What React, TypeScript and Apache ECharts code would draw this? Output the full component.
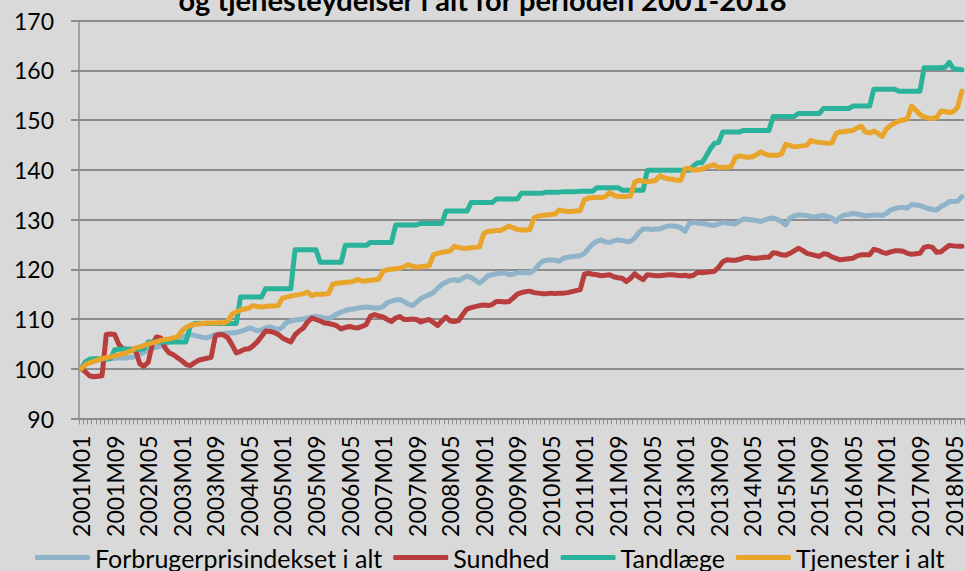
import React, { useEffect, useRef } from "react";
import * as echarts from "echarts";

// Monthly categories 2001M01 .. 2018M07
const startYear = 2001;
const monthCount = 211;
const categories: string[] = [];
for (let k = 0; k < monthCount; k++) {
  const y = startYear + Math.floor(k / 12);
  const m = (k % 12) + 1;
  categories.push(`${y}M${m < 10 ? "0" + m : m}`);
}

const seriesNames = ["Forbrugerprisindekset i alt", "Sundhed", "Tandlæge", "Tjenester i alt"];

const forbrugerpris = [
  100.0, 100.8, 101.3, 101.6, 101.8, 101.9, 101.9, 102.0, 102.1, 102.2,
  102.1, 102.2, 102.3, 102.5, 102.9, 103.3, 103.8, 104.2, 104.3, 104.5,
  104.9, 105.4, 105.9, 106.3, 106.5, 106.6, 106.9, 106.7, 106.5, 106.3,
  106.2, 106.5, 106.9, 107.0, 107.1, 107.2, 107.2, 107.3, 107.5, 107.8,
  108.2, 108.0, 107.6, 107.8, 108.2, 108.4, 108.1, 107.8, 108.4, 109.3,
  109.6, 109.8, 109.9, 110.0, 110.2, 110.4, 110.5, 110.4, 110.2, 110.1,
  110.5, 111.0, 111.4, 111.7, 111.9, 112.0, 112.2, 112.3, 112.4, 112.3,
  112.2, 112.2, 112.5, 113.3, 113.6, 113.8, 113.9, 113.5, 113.0, 112.7,
  113.4, 114.1, 114.5, 114.9, 115.3, 116.2, 116.9, 117.4, 117.8, 117.9,
  117.7, 118.2, 118.6, 118.3, 117.8, 117.2, 117.9, 118.7, 118.9, 119.1,
  119.2, 119.3, 118.9, 119.0, 119.3, 119.4, 119.3, 119.3, 119.8, 120.8,
  121.6, 121.8, 121.9, 121.8, 121.6, 122.2, 122.4, 122.5, 122.6, 122.7,
  123.2, 124.2, 125.1, 125.6, 125.9, 125.5, 125.4, 125.7, 125.9, 125.8,
  125.6, 125.6, 126.3, 127.4, 128.1, 128.1, 128.0, 128.1, 128.1, 128.4,
  128.7, 128.7, 128.6, 128.3, 127.6, 129.2, 129.4, 129.3, 129.2, 129.1,
  128.9, 128.8, 129.1, 129.4, 129.3, 129.2, 129.1, 129.7, 130.1, 130.0,
  129.9, 129.8, 129.6, 129.9, 130.2, 130.3, 130.0, 129.6, 128.9, 130.3,
  130.7, 130.9, 130.9, 130.8, 130.6, 130.5, 130.7, 130.8, 130.6, 130.3,
  129.6, 130.5, 130.9, 131.0, 131.2, 131.1, 130.9, 130.7, 130.8, 130.9,
  130.9, 130.8, 131.2, 131.9, 132.2, 132.4, 132.4, 132.3, 133.0, 132.9,
  132.8, 132.5, 132.2, 132.0, 131.9, 132.6, 133.0, 133.6, 133.6, 133.7, 134.6,
];

const sundhed = [
  100.0, 99.4, 98.6, 98.4, 98.5, 98.6, 106.9, 107.0, 106.9, 104.9,
  104.0, 103.9, 103.9, 103.6, 101.0, 100.5, 101.3, 105.0, 106.4, 106.2,
  104.2, 103.2, 102.8, 102.2, 101.6, 100.9, 100.6, 101.2, 101.7, 101.9,
  102.1, 102.3, 106.6, 106.9, 106.8, 106.2, 104.8, 103.2, 103.5, 103.9,
  104.0, 104.6, 105.4, 106.5, 107.6, 107.5, 107.3, 106.9, 106.2, 105.8,
  105.4, 106.8, 107.6, 108.2, 109.4, 110.2, 109.9, 109.6, 109.2, 109.1,
  108.9, 108.6, 108.0, 108.3, 108.5, 108.3, 108.2, 108.5, 108.9, 110.6,
  110.9, 110.6, 110.4, 109.9, 109.5, 110.2, 110.5, 109.9, 109.9, 110.0,
  109.9, 109.4, 109.7, 109.9, 109.3, 108.7, 109.6, 110.4, 109.6, 109.5,
  109.7, 110.9, 112.0, 112.3, 112.5, 112.7, 112.8, 112.7, 112.9, 113.5,
  113.5, 113.4, 113.5, 114.2, 115.0, 115.3, 115.5, 115.6, 115.3, 115.2,
  115.1, 115.1, 115.2, 115.1, 115.2, 115.2, 115.3, 115.5, 115.7, 115.9,
  119.0, 119.2, 119.0, 118.9, 118.7, 118.8, 118.9, 118.5, 118.3, 118.2,
  117.5, 118.2, 119.1, 118.4, 117.9, 118.9, 118.8, 118.7, 118.7, 118.8,
  118.9, 118.9, 118.8, 118.7, 118.8, 118.6, 118.8, 119.4, 119.3, 119.4,
  119.5, 119.6, 120.4, 121.5, 121.9, 121.8, 121.8, 122.0, 122.3, 122.4,
  122.2, 122.2, 122.3, 122.4, 122.4, 123.3, 123.2, 122.9, 122.8, 123.2,
  123.7, 124.2, 123.8, 123.2, 123.0, 122.8, 122.6, 123.1, 123.0, 122.5,
  122.2, 121.9, 122.0, 122.1, 122.2, 122.7, 122.9, 122.9, 122.9, 124.0,
  123.8, 123.4, 123.2, 123.5, 123.7, 123.7, 123.6, 123.2, 123.0, 123.1,
  123.2, 124.4, 124.6, 124.4, 123.4, 123.5, 124.2, 124.8, 124.7, 124.6, 124.6,
];

const tandlaege = [
  100.0, 101.4, 101.9, 102.0, 102.0, 102.0, 102.0, 102.0, 103.8, 103.9,
  103.9, 103.9, 103.9, 103.9, 103.9, 104.0, 105.4, 105.4, 105.4, 105.4,
  105.4, 105.4, 105.4, 105.4, 105.4, 105.4, 108.5, 109.1, 109.1, 109.1,
  109.1, 109.1, 109.1, 109.1, 109.1, 109.1, 109.1, 109.1, 114.4, 114.4,
  114.4, 114.4, 114.4, 114.4, 116.1, 116.1, 116.1, 116.1, 116.1, 116.1,
  116.1, 123.9, 123.9, 123.9, 123.9, 123.9, 123.9, 121.4, 121.4, 121.4,
  121.4, 121.4, 121.4, 124.8, 124.8, 124.8, 124.8, 124.8, 124.8, 125.4,
  125.4, 125.4, 125.4, 125.4, 125.4, 128.9, 128.9, 128.9, 128.9, 128.9,
  128.9, 129.2, 129.2, 129.2, 129.2, 129.2, 129.2, 131.7, 131.7, 131.7,
  131.7, 131.7, 131.7, 133.4, 133.4, 133.4, 133.4, 133.4, 133.4, 134.1,
  134.1, 134.1, 134.1, 134.1, 134.1, 135.3, 135.3, 135.3, 135.3, 135.3,
  135.3, 135.5, 135.5, 135.5, 135.5, 135.6, 135.6, 135.6, 135.6, 135.7,
  135.7, 135.7, 135.7, 136.4, 136.4, 136.4, 136.4, 136.4, 136.4, 135.9,
  135.9, 135.9, 135.9, 135.9, 135.9, 139.9, 139.9, 139.9, 139.9, 139.9,
  139.9, 139.9, 139.9, 139.9, 139.9, 139.9, 140.8, 141.4, 141.4, 142.7,
  144.2, 145.3, 145.5, 147.6, 147.6, 147.6, 147.6, 147.6, 147.9, 147.9,
  147.9, 147.9, 147.9, 147.9, 147.9, 150.7, 150.7, 150.7, 150.7, 150.7,
  150.7, 151.3, 151.3, 151.3, 151.3, 151.3, 151.3, 152.3, 152.3, 152.3,
  152.3, 152.3, 152.3, 152.3, 152.8, 152.8, 152.8, 152.8, 152.8, 156.2,
  156.2, 156.2, 156.2, 156.2, 156.2, 155.8, 155.8, 155.8, 155.8, 155.8,
  155.8, 160.5, 160.5, 160.5, 160.5, 160.5, 160.6, 161.6, 160.3, 160.2, 160.1,
];

const tjenester = [
  100.0, 100.8, 101.2, 101.5, 101.8, 102.0, 102.2, 102.4, 102.6, 102.8,
  103.0, 103.3, 103.6, 104.2, 104.4, 104.7, 105.0, 105.2, 105.4, 105.7,
  105.9, 106.0, 106.2, 106.4, 107.6, 108.3, 108.7, 108.9, 109.0, 109.1,
  109.2, 109.2, 109.2, 109.3, 109.2, 109.6, 111.0, 111.4, 111.8, 112.0,
  112.2, 112.7, 112.5, 112.4, 112.5, 112.6, 112.6, 112.7, 114.2, 114.4,
  114.6, 114.8, 114.9, 115.1, 115.4, 114.7, 115.0, 115.0, 115.0, 115.1,
  117.0, 117.2, 117.3, 117.4, 117.4, 117.6, 118.0, 117.6, 117.7, 117.8,
  117.9, 118.0, 119.6, 119.9, 120.0, 120.1, 120.2, 120.5, 120.9, 120.6,
  120.4, 120.5, 120.6, 120.7, 122.9, 123.2, 123.4, 123.5, 123.7, 124.6,
  124.4, 124.2, 124.2, 124.3, 124.4, 124.5, 127.2, 127.6, 127.7, 127.8,
  127.8, 128.2, 128.7, 128.3, 128.0, 127.9, 127.9, 128.0, 130.3, 130.7,
  130.8, 130.9, 131.0, 131.1, 131.9, 131.7, 131.6, 131.6, 131.7, 131.8,
  134.0, 134.3, 134.4, 134.4, 134.4, 134.6, 135.4, 134.9, 134.6, 134.6,
  134.6, 134.7, 137.5, 137.9, 137.7, 137.6, 137.7, 137.9, 138.8, 138.4,
  138.2, 138.1, 137.9, 137.9, 140.2, 140.3, 139.9, 140.0, 140.1, 140.5,
  140.8, 141.0, 140.4, 140.5, 140.5, 140.6, 142.5, 142.8, 142.6, 142.5,
  142.6, 143.0, 143.6, 143.2, 142.9, 142.9, 142.9, 143.2, 145.1, 144.9,
  144.6, 144.7, 144.8, 144.9, 145.9, 145.6, 145.5, 145.4, 145.3, 145.4,
  147.3, 147.6, 147.7, 147.8, 147.9, 148.4, 148.8, 147.6, 147.4, 147.8,
  147.3, 146.7, 148.2, 148.9, 149.4, 149.8, 150.0, 150.2, 152.8, 152.0,
  151.1, 150.6, 150.4, 150.3, 150.5, 151.8, 151.7, 151.5, 151.7, 152.6, 155.8,
];

const seriesValues = [forbrugerpris, sundhed, tandlaege, tjenester];
const seriesColors = ["#8fb4ca", "#b83d3d", "#2ab39a", "#e9a42a"];

const titleText = "og tjenesteydelser i alt for perioden 2001-2018";
const FONT = "Lato";

export default function App() {
  const ref = useRef<HTMLDivElement>(null);

  useEffect(() => {
    if (!ref.current) return;
    const chart = echarts.init(ref.current, null, { renderer: "svg" });
    const axisGray = "#8c8c8c";
    chart.setOption({
      animation: false,
      backgroundColor: "#d9d9d9",
      textStyle: { fontFamily: FONT },
      title: {
        text: titleText,
        left: "center",
        top: -15,
        padding: 0,
        textStyle: { fontFamily: FONT, fontWeight: "bold", fontSize: 29, color: "#000" },
      },
      grid: { left: 79, right: 0, top: 20.5, bottom: 152.5, containLabel: false },
      legend: {
        data: seriesNames,
        top: 545,
        left: 35,
        icon: "roundRect",
        itemWidth: 55,
        itemHeight: 5,
        itemGap: 11,
        padding: 0,
        textStyle: { fontFamily: FONT, fontSize: 25, color: "#000" },
      },
      xAxis: {
        type: "category",
        data: categories,
        boundaryGap: true,
        axisLine: { show: true, lineStyle: { color: axisGray, width: 2 } },
        axisTick: { show: true, interval: 0, length: 6, lineStyle: { color: axisGray, width: 1 } },
        axisLabel: { interval: 7, rotate: 90, margin: 17, fontSize: 23, color: "#000", fontFamily: FONT },
        splitLine: { show: false },
      },
      yAxis: {
        type: "value",
        min: 90,
        max: 170,
        interval: 10,
        axisLine: { show: true, lineStyle: { color: axisGray, width: 1.5 } },
        axisTick: { show: true, length: 8, lineStyle: { color: axisGray, width: 2 } },
        splitLine: { show: true, lineStyle: { color: axisGray, width: 2 } },
        axisLabel: { margin: 25, fontSize: 23, color: "#000", fontFamily: FONT },
      },
      series: seriesNames.map((name, k) => ({
        name,
        type: "line",
        data: seriesValues[k],
        showSymbol: false,
        symbol: "none",
        lineStyle: { color: seriesColors[k], width: 5, join: "round", cap: "round" },
        itemStyle: { color: seriesColors[k] },
        z: 2 + k,
      })),
    });
    return () => chart.dispose();
  }, []);

  return (
    <div
      ref={ref}
      style={{ position: "absolute", left: 0, top: 0, width: 965, height: 571, overflow: "hidden" }}
    />
  );
}
